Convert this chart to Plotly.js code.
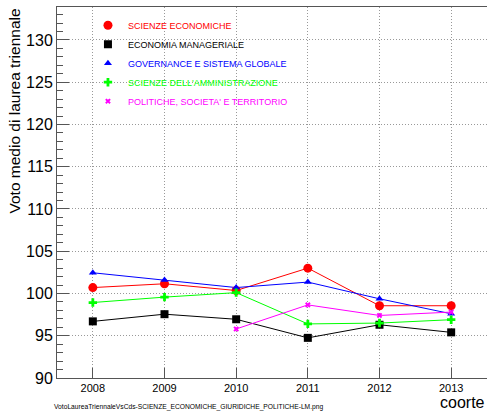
<!DOCTYPE html>
<html><head><meta charset="utf-8">
<script src="https://cdn.plot.ly/plotly-3.0.1.min.js"></script>
<style>html,body{margin:0;padding:0;background:#fff}#c{width:487px;height:414px}</style>
</head><body><div id="c"></div>
<script>
const years = [2008, 2009, 2010, 2011, 2012, 2013];
const sciEco = [100.7, 101.15, 100.35, 103.0, 98.55, 98.55];
const ecoMan = [96.7, 97.55, 96.95, 94.75, 96.3, 95.4];
const govern = [102.45, 101.6, 100.7, 101.35, 99.37, 97.6];
const sciAmm = [98.93, 99.57, 100.1, 96.4, 96.5, 96.9];
const polYears = [2010, 2011, 2012, 2013];
const polSoc = [95.8, 98.65, 97.4, 97.8];
const names = ["SCIENZE ECONOMICHE", "ECONOMIA MANAGERIALE", "GOVERNANCE E SISTEMA GLOBALE", "SCIENZE DELL'AMMINISTRAZIONE", "POLITICHE, SOCIETA' E TERRITORIO"];
const yTitle = "Voto medio di laurea triennale";
const xTitle = "coorte";
const footer = "VotoLaureaTriennaleVsCds-SCIENZE_ECONOMICHE_GIURIDICHE_POLITICHE-LM.png";

const series = [
  {x: years, y: sciEco, color: "#ff0000", symbol: "circle", size: 9},
  {x: years, y: ecoMan, color: "#000000", symbol: "square", size: 8},
  {x: years, y: govern, color: "#0000ff", symbol: "triangle-up", size: 7},
  {x: years, y: sciAmm, color: "#00ff00", symbol: "cross", size: 7},
  {x: polYears, y: polSoc, color: "#ff00ff", symbol: "x", size: 5}
];
const traces = [];
series.forEach((s, i) => {
  traces.push({x: s.x, y: s.y, mode: "lines", line: {color: s.color, width: 1}, showlegend: false, hoverinfo: "skip"});
});
series.forEach((s, i) => {
  traces.push({x: s.x, y: s.y, mode: "markers", name: '<span style="color:' + s.color + '">' + names[i] + '</span>',
    marker: {color: s.color, symbol: s.symbol, size: s.size, line: {width: 0}}});
});

const font = "Liberation Sans, Arial, sans-serif";
const layout = {
  width: 487, height: 414,
  margin: {l: 57, r: 0, t: 7, b: 36},
  paper_bgcolor: "#fff", plot_bgcolor: "#fff",
  font: {family: font, color: "#000"},
  showlegend: true,
  legend: {x: 0.072, y: 0.99, xanchor: "left", yanchor: "top", bgcolor: "rgba(0,0,0,0)",
    font: {family: font, size: 9}, tracegroupgap: 0, itemwidth: 30},
  xaxis: {range: [2007.5, 2013.5], tickvals: years, ticktext: years.map(String),
    ticks: "inside", ticklen: 10, tickcolor: "#555", tickfont: {size: 11, family: font},
    showgrid: true, gridcolor: "#999", griddash: "1px,2px", gridwidth: 1,
    showline: true, linecolor: "#555", linewidth: 1, mirror: true, zeroline: false},
  yaxis: {range: [90, 133.9], tick0: 90, dtick: 5, ticks: "inside", ticklen: 12, tickcolor: "#555",
    tickfont: {size: 16, family: font},
    minor: {dtick: 1, ticks: "inside", ticklen: 6, tickcolor: "#555", showgrid: false},
    showgrid: true, gridcolor: "#999", griddash: "1px,2px", gridwidth: 1,
    showline: true, linecolor: "#555", linewidth: 1, zeroline: false},
  annotations: [
    {text: yTitle, xref: "paper", yref: "paper", x: -0.1, y: 1.0, xanchor: "center", yanchor: "top",
     textangle: -90, showarrow: false, font: {size: 15.5, family: font}},
    {text: xTitle, xref: "paper", yref: "paper", x: 1.0, y: -0.095, xanchor: "right", yanchor: "bottom",
     showarrow: false, font: {size: 16, family: font}},
    {text: footer, xref: "paper", yref: "paper", x: -0.012, y: -0.095, xanchor: "left", yanchor: "bottom",
     showarrow: false, font: {size: 6.7, family: font}}
  ]
};
Plotly.newPlot("c", traces, layout, {displayModeBar: false, staticPlot: true});
</script></body></html>
